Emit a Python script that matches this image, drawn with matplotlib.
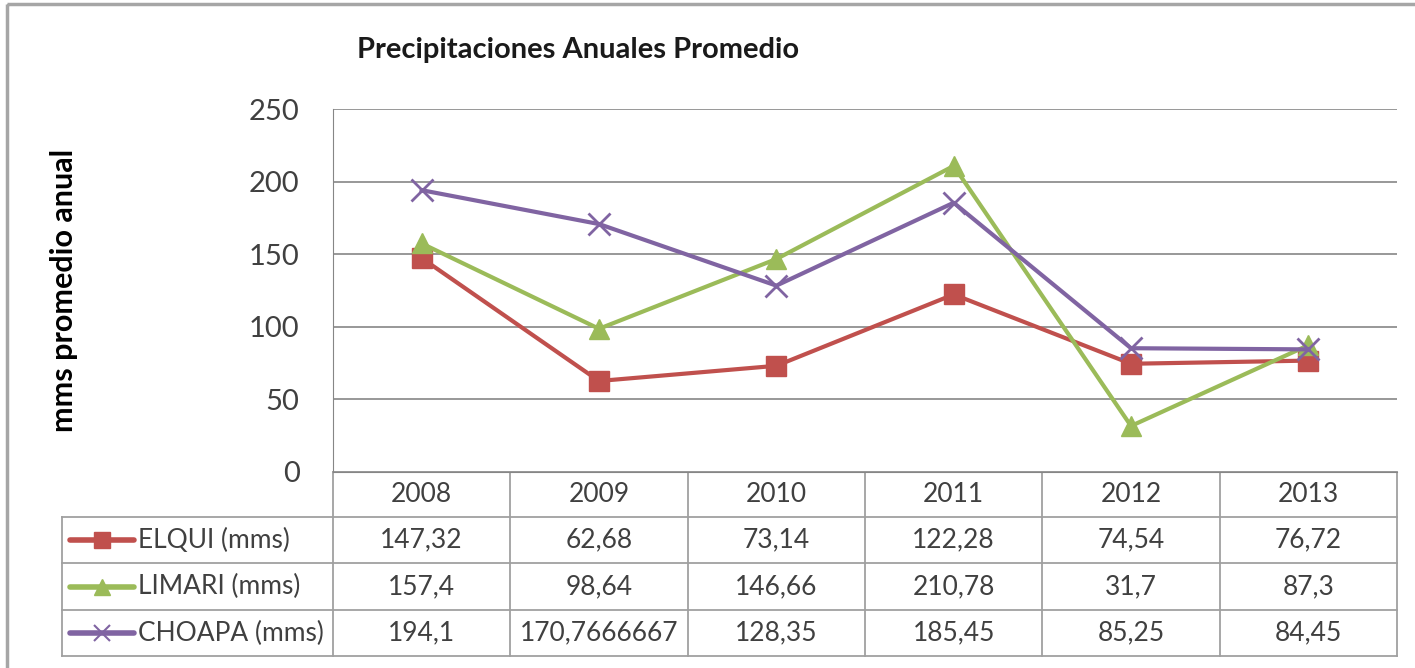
import matplotlib.pyplot as plt
from matplotlib.patches import Rectangle

plt.rcParams['font.family'] = ['Lato', 'DejaVu Sans']

years = ['2008', '2009', '2010', '2011', '2012', '2013']
elqui = [147.32, 62.68, 73.14, 122.28, 74.54, 76.72]
limari = [157.4, 98.64, 146.66, 210.78, 31.7, 87.3]
choapa = [194.1, 170.7666667, 128.35, 185.45, 85.25, 84.45]
elqui_txt = ['147,32', '62,68', '73,14', '122,28', '74,54', '76,72']
limari_txt = ['157,4', '98,64', '146,66', '210,78', '31,7', '87,3']
choapa_txt = ['194,1', '170,7666667', '128,35', '185,45', '85,25', '84,45']
names = ['ELQUI (mms)', 'LIMARI (mms)', 'CHOAPA (mms)']
colors = ['#C0504D', '#9BBB59', '#8064A2']
markers = ['s', '^', 'x']

W, H = 1415, 668
fig = plt.figure(figsize=(W / 100, H / 100), dpi=100)

# overlay in pixel coords for frame, title and table
ov = fig.add_axes([0, 0, 1, 1])
ov.set_xlim(0, W)
ov.set_ylim(H, 0)
ov.axis('off')
ov.add_patch(Rectangle((7, 4), W + 20, H + 20, fill=False, edgecolor='#A6A6A6', lw=2.5))

# plot area
x0, x1, ytop, ybot = 333, 1397, 109, 472
ax = fig.add_axes([x0 / W, 1 - ybot / H, (x1 - x0) / W, (ybot - ytop) / H])
xs = range(len(years))
series = [elqui, limari, choapa]
for vals, c, m in zip(series, colors, markers):
    ms = 15 if m != 'x' else 16
    ax.plot(xs, vals, color=c, lw=3, marker=m, markersize=ms,
            markeredgewidth=2 if m == 'x' else 1, markeredgecolor=c, zorder=3)
ax.set_xlim(-0.5, len(years) - 0.5)
ax.set_ylim(0, 250)
ax.set_yticks(range(0, 251, 50))
ax.set_xticks([])
ax.grid(axis='y', color='#868686', lw=1.2)
ax.set_axisbelow(True)
for s in ['top', 'right']:
    ax.spines[s].set_visible(False)
ax.spines['left'].set_color('#868686')
ax.spines['bottom'].set_color('#868686')
ax.tick_params(axis='y', length=0, pad=24, labelsize=21, labelcolor='#404040')
ax.set_ylabel('mms promedio anual', fontsize=22, fontweight='bold', labelpad=0)
ax.yaxis.set_label_coords(-0.24, 0.5)

fig.text(578 / W, 1 - 50 / H, 'Precipitaciones Anuales Promedio', ha='center', va='center',
         fontsize=21, fontweight='bold', color='#1a1a1a')

# data table
colw = (x1 - x0) / len(years)
rows_y = [472, 517, 563, 610, 656]
gc = '#A0A0A0'
for i in range(len(years) + 1):
    ov.plot([x0 + i * colw] * 2, [472, 656], color=gc, lw=1.3)
ov.plot([62, 62], [517, 656], color=gc, lw=1.3)
ov.plot([x0, x1], [472, 472], color=gc, lw=1.3)
for y in rows_y[1:]:
    ov.plot([62, x1], [y, y], color=gc, lw=1.3)
for i, yr in enumerate(years):
    ov.text(x0 + (i + 0.5) * colw, (472 + 517) / 2, yr, ha='center', va='center',
            fontsize=19, color='#404040')
texts = [elqui_txt, limari_txt, choapa_txt]
for r in range(3):
    yc = (rows_y[r + 1] + rows_y[r + 2]) / 2
    ov.plot([70, 134], [yc, yc], color=colors[r], lw=4, solid_capstyle='round')
    ov.plot([102], [yc], marker=markers[r], color=colors[r], markersize=12,
            markeredgewidth=1.5 if markers[r] == 'x' else 1)
    ov.text(138, yc, names[r], ha='left', va='center', fontsize=19, color='#404040')
    for i, t in enumerate(texts[r]):
        ov.text(x0 + (i + 0.5) * colw, yc, t, ha='center', va='center',
                fontsize=19, color='#404040')

fig.savefig('out.png', dpi=100)
